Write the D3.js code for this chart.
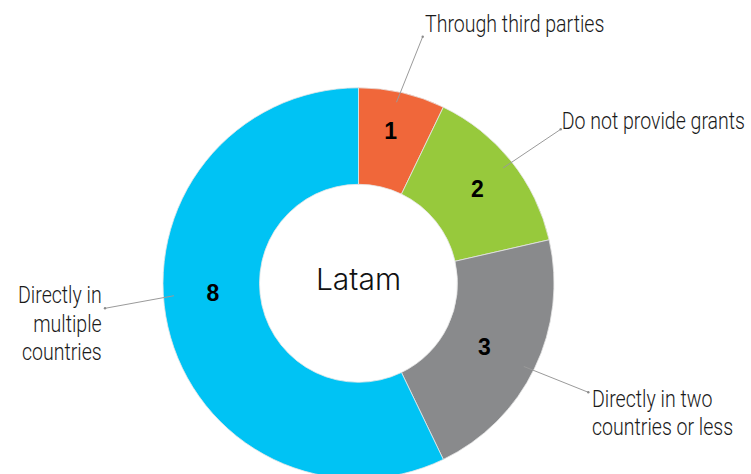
<!DOCTYPE html>
<html>
<head>
<meta charset="utf-8">
<script src="https://cdn.jsdelivr.net/npm/d3@7"></script>
<style>
  html, body { margin: 0; padding: 0; background: #fff; }
  svg { display: block; }
  .cat { font-family: Roboto, "Liberation Sans", sans-serif; font-weight: 300; font-size: 24px; fill: #1a1a1a; }
  .val { font-family: "Liberation Sans", Arial, sans-serif; font-weight: bold; font-size: 23px; fill: #000; }
  .title { font-family: Inter, Roboto, "Noto Sans", sans-serif; font-weight: 300; font-size: 30px; fill: #111; }
</style>
</head>
<body>
<svg id="chart" width="751" height="474"></svg>
<script>
// ---- data ----
const categories = ["Through third parties", "Do not provide grants", "Directly in two\ncountries or less", "Directly in\nmultiple\ncountries"];
const values = [1, 2, 3, 8];
const colors = ["#F0673A", "#97C93C", "#898A8C", "#00C3F4"];
const centerTitle = "Latam";

// ---- layout (not data) ----
const W = 751, H = 474;
const cx = 358.5, cy = 283.3, R = 195.5, r0 = 99;
const condense = 0.815; // horizontal squeeze to mimic a condensed face
// small nudges for value-label placement (radius delta px, angle delta deg)
const valueNudge = [[6, -1], [2, 0], [-9, 1], [-4, 9]];
// outer category labels: leader end point, text anchor, line height
const outerLabels = [
  { end: [422.7, 36.7], x: 425, y: 31.7, anchor: "start" },
  { end: [560.7, 129.3], x: 561.7, y: 129.3, anchor: "start" },
  { end: [588.3, 392.3], x: 592, y: 406.7, anchor: "start" },
  { end: [105, 308.3], x: 101.7, y: 303.3, anchor: "end" }
];
const lineH = 28.3;

const svg = d3.select("#chart");
const g = svg.append("g").attr("transform", `translate(${cx},${cy})`);

const pie = d3.pie().sort(null).value(d => d);
const arcs = pie(values);
const arc = d3.arc().innerRadius(r0).outerRadius(R);

g.selectAll("path.slice").data(arcs).join("path")
  .attr("class", "slice")
  .attr("d", arc)
  .attr("fill", (d, i) => colors[i])
  .attr("stroke", "#e6e6e6")
  .attr("stroke-width", 0.8);

function polar(rad, ang) { return [rad * Math.sin(ang), -rad * Math.cos(ang)]; }

// value labels
g.selectAll("text.val").data(arcs).join("text")
  .attr("class", "val")
  .attr("text-anchor", "middle")
  .attr("dominant-baseline", "central")
  .attr("transform", (d, i) => {
    const a = (d.startAngle + d.endAngle) / 2 + valueNudge[i][1] * Math.PI / 180;
    const p = polar(150 + valueNudge[i][0], a);
    return `translate(${p[0]},${p[1]})`;
  })
  .text(d => d.data);

// leader lines
const lead = svg.append("g");
arcs.forEach((d, i) => {
  const a = (d.startAngle + d.endAngle) / 2 + valueNudge[i][1] * Math.PI / 180;
  const p = polar(185, a);
  const L = outerLabels[i];
  lead.append("line")
    .attr("x1", cx + p[0]).attr("y1", cy + p[1])
    .attr("x2", L.end[0]).attr("y2", L.end[1])
    .attr("stroke", "#9a9a9a").attr("stroke-width", 1);
  lead.append("circle")
    .attr("cx", L.end[0]).attr("cy", L.end[1]).attr("r", 1.2)
    .attr("fill", "#8a8a8a");
});

// category labels
const catG = svg.append("g");
categories.forEach((c, i) => {
  const L = outerLabels[i];
  const t = catG.append("g")
    .attr("transform", `translate(${L.x},${L.y}) scale(${condense},1)`)
    .append("text").attr("class", "cat")
    .attr("text-anchor", L.anchor);
  c.split("\n").forEach((line, j) => {
    t.append("tspan").attr("x", 0).attr("y", j * lineH).text(line);
  });
});

// center title
g.append("text").attr("class", "title")
  .attr("text-anchor", "middle")
  .attr("y", 290 - cy)
  .text(centerTitle);
</script>
</body>
</html>
